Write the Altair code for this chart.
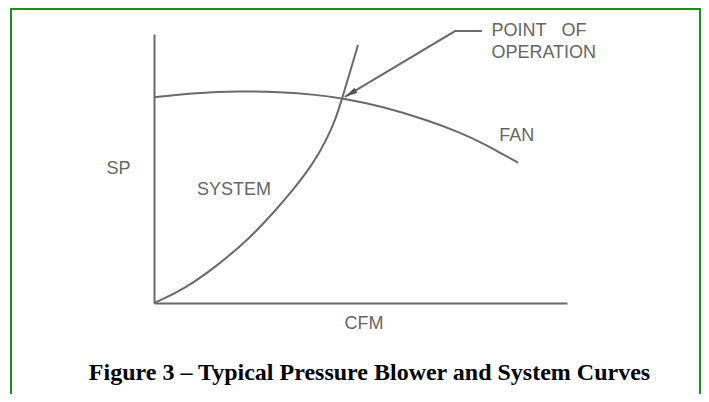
import altair as alt
import pandas as pd

# Fan curve (CFM, SP in relative units, axis 0..100)
fan_cfm = [0, 10.41, 20.10, 30.51, 39.47, 45.52, 55.45, 66.83, 74.09, 79.66, 88.14]
fan_sp = [76.47, 78.14, 78.81, 78.51, 77.40, 76.10, 73.05, 67.66, 63.38, 59.48, 52.16]

# System curve
sys_cfm = [0, 7.02, 15.25, 23.24, 29.30, 33.66, 38.50, 41.89, 44.07, 45.52, 47.46, 49.39]
sys_sp = [0, 4.83, 13.75, 24.16, 34.20, 42.01, 51.67, 60.97, 68.77, 75.84, 85.87, 95.91]

# Leader line to "point of operation"
lead_cfm = [46.2, 72.9, 79.4]
lead_sp = [76.6, 101.1, 101.1]

# Labels
label_text = ["POINT\u00a0\u00a0\u00a0OF", "OPERATION", "FAN", "SYSTEM"]
label_cfm = [81.7, 81.7, 83.6, 10.4]
label_sp = [101.3, 93.1, 62.0, 42.1]

caption = "Figure 3 \u2013 Typical Pressure Blower and System Curves"

LINE = "#6a6a6a"
TXT = "#666666"
GREEN = "#1a8f1a"

xs = alt.Scale(domain=[0, 100], nice=False, zero=False)
ys = alt.Scale(domain=[0, 100], nice=False, zero=False)

fan_df = pd.DataFrame({"cfm": fan_cfm, "sp": fan_sp, "o": range(len(fan_cfm))})
sys_df = pd.DataFrame({"cfm": sys_cfm, "sp": sys_sp, "o": range(len(sys_cfm))})
lead_df = pd.DataFrame({"cfm": lead_cfm, "sp": lead_sp, "o": range(len(lead_cfm))})
lab_df = pd.DataFrame({"label": label_text, "cfm": label_cfm, "sp": label_sp})
tip_df = pd.DataFrame({"cfm": [lead_cfm[0]], "sp": [lead_sp[0]]})
one = pd.DataFrame({"a": [0]})

x_axis = alt.Axis(
    title="CFM", ticks=False, labels=False, grid=False,
    domainColor=LINE, domainWidth=2,
    titleFont="Liberation Sans", titleFontSize=18, titleFontWeight="normal",
    titleColor=TXT, titleX=209.5, titleY=20, titleBaseline="middle", titleAlign="center",
)
y_axis = alt.Axis(
    title="SP", ticks=False, labels=False, grid=False,
    domainColor=LINE, domainWidth=2,
    titleFont="Liberation Sans", titleFontSize=18, titleFontWeight="normal",
    titleColor=TXT, titleAngle=0, titleX=-36, titleY=134.5,
    titleBaseline="middle", titleAlign="center",
)

fan = alt.Chart(fan_df).mark_line(interpolate="basis", color=LINE, strokeWidth=2).encode(
    x=alt.X("cfm:Q", scale=xs, axis=x_axis),
    y=alt.Y("sp:Q", scale=ys, axis=y_axis),
    order="o:Q",
)
system = alt.Chart(sys_df).mark_line(interpolate="basis", color=LINE, strokeWidth=2).encode(
    x=alt.X("cfm:Q", scale=xs),
    y=alt.Y("sp:Q", scale=ys),
    order="o:Q",
)
leader = alt.Chart(lead_df).mark_line(color=LINE, strokeWidth=2).encode(
    x=alt.X("cfm:Q", scale=xs),
    y=alt.Y("sp:Q", scale=ys),
    order="o:Q",
)
arrow = alt.Chart(tip_df).mark_point(
    shape="M0,0L0.45,2L-0.45,2Z", filled=True, size=169, angle=239,
    color="#555555", opacity=1,
).encode(
    x=alt.X("cfm:Q", scale=xs),
    y=alt.Y("sp:Q", scale=ys),
)
labels = alt.Chart(lab_df).mark_text(
    align="left", baseline="middle", font="Liberation Sans", fontSize=18, color=TXT,
).encode(
    x=alt.X("cfm:Q", scale=xs),
    y=alt.Y("sp:Q", scale=ys),
    text="label:N",
)
cap = alt.Chart(one).mark_text(
    align="center", baseline="alphabetic", font="Liberation Serif",
    fontSize=24, fontWeight="bold", color="#000000",
).encode(
    x=alt.value(215.5), y=alt.value(346), text=alt.value(caption),
)
border = alt.Chart(one).mark_rect(
    fillOpacity=0, stroke=GREEN, strokeWidth=2,
).encode(
    x=alt.value(-143), x2=alt.value(546), y=alt.value(-25), y2=alt.value(400),
)

chart = alt.layer(border, fan, system, leader, arrow, labels, cap).properties(
    width=413, height=269,
    autosize=alt.AutoSizeParams(type="none"),
    padding={"left": 146, "top": 26, "right": 134, "bottom": 91},
    background="white",
).configure_view(stroke=None)

chart.save("out.html", embed_options={"renderer": "svg", "actions": False})
